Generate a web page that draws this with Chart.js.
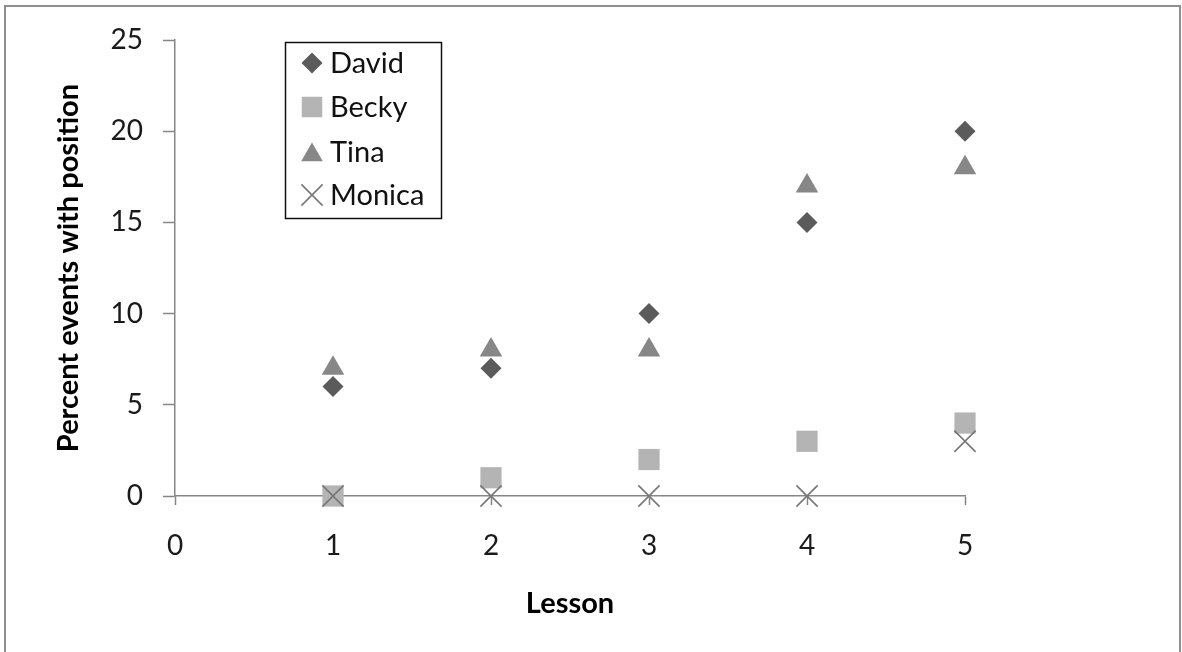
<!DOCTYPE html>
<html><head><meta charset="utf-8">
<script src="https://cdn.jsdelivr.net/npm/chart.js@4"></script>
<style>html,body{margin:0;padding:0;background:#fff;overflow:hidden}canvas{display:block}</style>
</head><body>
<canvas id="c" width="1182" height="652"></canvas>
<script>
// ---- data ----
const lessons = [1, 2, 3, 4, 5];
const david  = [6, 7, 10, 15, 20];
const becky  = [0, 1, 2, 3, 4];
const tina   = [7, 8, 8, 17, 18];
const monica = [0, 0, 0, 0, 3];
const xTicks = [0, 1, 2, 3, 4, 5];
const yTicks = [0, 5, 10, 15, 20, 25];
const seriesNames = ['David', 'Becky', 'Tina', 'Monica'];
const xTitle = 'Lesson';
const yTitle = 'Percent events with position';

// ---- styling ----
const FONT = 'Lato, "Open Sans", sans-serif';
const AXIS = '#868686';
const pts = arr => lessons.map((x, i) => ({ x: x, y: arr[i] }));
const looks = [
  { pointStyle: 'rectRot',  radius: 10.5, bg: '#5b5b5b', bd: '#5b5b5b', bw: 0 },
  { pointStyle: 'rect',     radius: 15,   bg: '#b4b4b4', bd: '#b4b4b4', bw: 0 },
  { pointStyle: 'triangle', radius: 13,   bg: '#878787', bd: '#878787', bw: 0 },
  { pointStyle: 'crossRot', radius: 15,   bg: 'rgba(0,0,0,0)', bd: '#777777', bw: 1.6 }
];
const values = [david, becky, tina, monica];

const datasets = values.map((v, i) => ({
  label: seriesNames[i],
  data: pts(v),
  pointStyle: looks[i].pointStyle,
  pointRadius: looks[i].radius,
  backgroundColor: looks[i].bg,
  borderColor: looks[i].bd,
  borderWidth: looks[i].bw,
  showLine: false,
  clip: false,
  order: values.length - 1 - i
}));

const frame = {
  id: 'frame',
  beforeDraw(chart) {
    const ctx = chart.ctx;
    ctx.save();
    ctx.fillStyle = '#fff';
    ctx.fillRect(0, 0, chart.width, chart.height);
    ctx.strokeStyle = '#8f8f8f';
    ctx.lineWidth = 2;
    ctx.strokeRect(5, 6, 1175, 700);
    ctx.restore();
  }
};

const boxLegend = {
  id: 'boxLegend',
  afterDraw(chart) {
    const ctx = chart.ctx;
    ctx.save();
    ctx.strokeStyle = '#111';
    ctx.lineWidth = 1.5;
    ctx.strokeRect(285.5, 42.5, 156, 176);
    const rowY = [63, 107, 152, 195];
    chart.data.datasets.forEach((ds, i) => {
      const y = rowY[i];
      ctx.fillStyle = ds.backgroundColor;
      ctx.strokeStyle = ds.borderColor;
      ctx.lineWidth = ds.borderWidth;
      const r = ds.pointStyle === 'rect' ? 14.5 : (ds.pointStyle === 'crossRot' ? 15 : (ds.pointStyle === 'triangle' ? 12.5 : 10.5));
      Chart.helpers.drawPoint(ctx, { pointStyle: ds.pointStyle, radius: r, borderWidth: ds.borderWidth, rotation: 0 }, 312, ds.pointStyle === 'triangle' ? y + 3 : y);
      ctx.fillStyle = '#111';
      ctx.font = '29px ' + FONT;
      ctx.textAlign = 'left';
      ctx.textBaseline = 'middle';
      ctx.fillText(ds.label, 330, y + 1);
    });
    ctx.restore();
  }
};

new Chart(document.getElementById('c'), {
  type: 'scatter',
  data: { datasets: datasets },
  plugins: [frame, boxLegend],
  options: {
    responsive: false,
    animation: false,
    events: [],
    layout: { padding: { left: 0, top: 40, right: 217, bottom: 0 } },
    plugins: { legend: { display: false }, tooltip: { enabled: false } },
    scales: {
      x: {
        type: 'linear', min: 0, max: 5,
        afterBuildTicks: s => { s.ticks = xTicks.map(v => ({ value: v })); },
        afterFit: s => { s.height = 156; },
        grid: { display: true, drawOnChartArea: false, drawTicks: true, tickLength: 9, tickColor: AXIS, tickWidth: 1.5 },
        border: { display: true, color: AXIS, width: 1.5 },
        ticks: { font: { family: FONT, size: 28 }, color: '#1a1a1a', padding: 24, maxRotation: 0 },
        title: { display: true, text: xTitle, color: '#000', font: { family: FONT, size: 29, weight: 'bold' }, padding: { top: 0, bottom: 31 } }
      },
      y: {
        type: 'linear', min: 0, max: 25,
        afterBuildTicks: s => { s.ticks = yTicks.map(v => ({ value: v })); },
        afterFit: s => { s.width = 175; },
        grid: { display: true, drawOnChartArea: false, drawTicks: true, tickLength: 12, tickColor: AXIS, tickWidth: 1.5 },
        border: { display: true, color: AXIS, width: 1.5 },
        ticks: { font: { family: FONT, size: 28 }, color: '#1a1a1a', padding: 20 },
        title: { display: true, text: yTitle, color: '#000', font: { family: FONT, size: 29, weight: 'bold' }, padding: { top: 51, bottom: 0 } }
      }
    }
  }
});
</script>
</body></html>
